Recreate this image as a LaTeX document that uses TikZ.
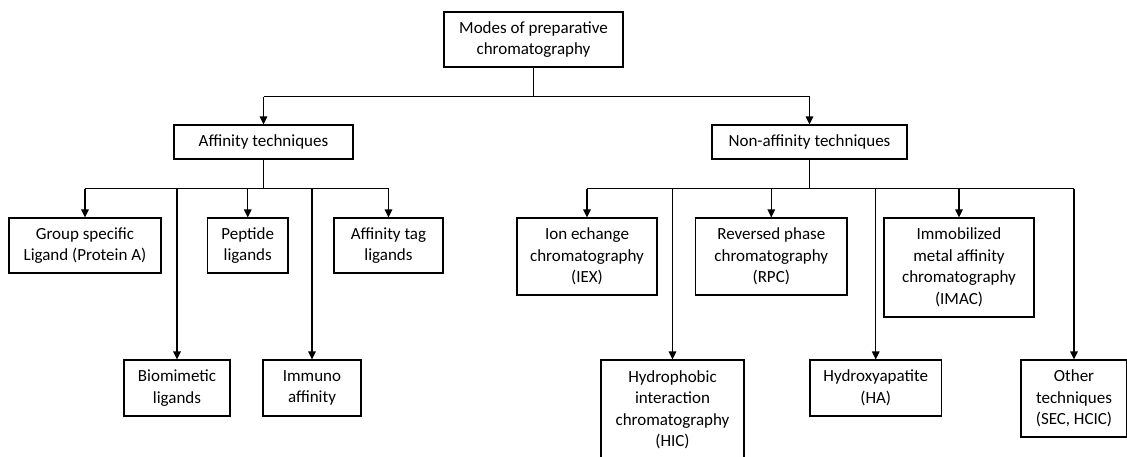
\documentclass[tikz,border=0pt]{standalone}
\usepackage{fontspec}
\setmainfont{Carlito}
\usetikzlibrary{arrows.meta}
\begin{document}
\begin{tikzpicture}[x=1pt,y=-1pt,
  box/.style={draw, line width=1.1pt, align=center, inner sep=0pt,
    font=\fontsize{17}{21.5}\selectfont},
  link/.style={line width=1.1pt},
  arr/.style={line width=1.1pt, -{Triangle[length=8pt,width=7.5pt]}}]
\useasboundingbox (0,0) rectangle (1127,456);
% level 0
\node[box, minimum width=179pt, minimum height=55pt] (root) at (533.5,39.5) {Modes of preparative\\chromatography};
% level 1
\node[box, minimum width=179pt, minimum height=34pt] (aff) at (263.5,142) {Affinity techniques};
\node[box, minimum width=195pt, minimum height=34pt] (naff) at (809.5,142) {Non-affinity techniques};
% affinity children
\node[box, minimum width=152pt, minimum height=55pt] (group) at (85,245.5) {Group specific\\Ligand (Protein A)};
\node[box, minimum width=80.5pt, minimum height=55pt] (pep) at (247.75,245.5) {Peptide\\ligands};
\node[box, minimum width=109pt, minimum height=55pt] (tag) at (388.5,245.5) {Affinity tag\\ligands};
\node[box, minimum width=106pt, minimum height=56pt] (bio) at (177,388) {Biomimetic\\ligands};
\node[box, minimum width=98pt, minimum height=56pt] (imm) at (312,388) {Immuno\\affinity};
% non-affinity children
\node[box, minimum width=140pt, minimum height=77pt] (ion) at (587,256.5) {Ion echange\\chromatography\\(IEX)};
\node[box, minimum width=151.4pt, minimum height=77pt] (rpc) at (771.3,256.5) {Reversed phase\\chromatography\\(RPC)};
\node[box, minimum width=150pt, minimum height=99pt] (imac) at (959,267.5) {Immobilized\\metal affinity\\chromatography\\(IMAC)};
\node[box, minimum width=143pt, minimum height=100pt] (hic) at (672.5,410) {Hydrophobic\\interaction\\chromatography\\(HIC)};
\node[box, minimum width=131.5pt, minimum height=56pt] (ha) at (875.75,388) {Hydroxyapatite\\(HA)};
\node[box, minimum width=106pt, minimum height=77pt] (other) at (1074,398.5) {Other\\techniques\\(SEC, HCIC)};
% root connectors
\draw[link] (root.south) -- ++(0,29.3) coordinate (rbus);
\draw[link] (rbus -| aff.north) -- (rbus -| naff.north);
\draw[arr] (rbus -| aff.north) -- (aff.north);
\draw[arr] (rbus -| naff.north) -- (naff.north);
% affinity connectors
\draw[link] (aff.south) -- ++(0,29.3) coordinate (abus);
\draw[link] (abus -| group.north) -- (abus -| tag.north);
\foreach \n in {group,pep,tag,bio,imm}
  \draw[arr] (abus -| \n.north) -- (\n.north);
% non-affinity connectors
\draw[link] (naff.south) -- ++(0,29.3) coordinate (nbus);
\draw[link] (nbus -| ion.north) -- (nbus -| other.north);
\foreach \n in {ion,rpc,imac,hic,ha,other}
  \draw[arr] (nbus -| \n.north) -- (\n.north);
\end{tikzpicture}
\end{document}
